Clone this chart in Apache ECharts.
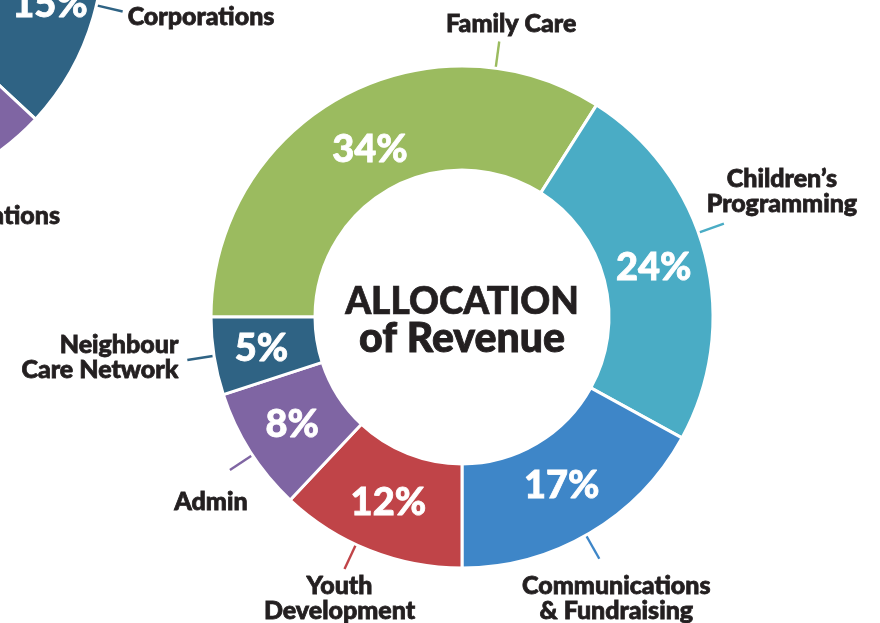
<!DOCTYPE html>
<html>
<head>
<meta charset="utf-8">
<title>Allocation of Revenue</title>
<script src="https://cdn.jsdelivr.net/npm/echarts@6/dist/echarts.min.js"></script>
<style>
  html, body { margin: 0; padding: 0; background: #ffffff; }
  #chart { width: 880px; height: 623px; }
</style>
</head>
<body>
<div id="chart"></div>
<script>
// Where revenue goes (percent of total)
const programs = ['Family Care', 'Children’s Programming', 'Communications & Fundraising', 'Youth Development', 'Admin', 'Neighbour Care Network'];
const programShares = [34, 24, 17, 12, 8, 5];
const programLabels = ['Family Care', 'Children’s\nProgramming', 'Communications\n& Fundraising', 'Youth\nDevelopment', 'Admin', 'Neighbour\nCare Network'];

// Where revenue comes from (only the first slices fall inside the page)
const revenueSources = ['Corporations', 'Foundations', 'Other Revenue'];
const revenueShares = [15, 20, 65];
const revenueLabels = ['Corporations', 'Foundations', ''];

// Styling
const programColors = ['#9bbb5f', '#4aacc5', '#3e86c8', '#c04448', '#7f65a3', '#2f6384'];
const revenueColors = ['#2f6384', '#7f65a3', '#b9c9d6'];
const TEXT = '#231f20';
const FONT = 'Lato';
const WEIGHT = 900;

const MAIN_CENTER = [462, 317];
const SIDE_CENTER = [-148, -52];
const RING = [147, 251];
const OUTER = 249;
const LEADER = 29;

// Distance of each percentage from the ring centre
const programPercentRadii = [191, 198, 196, 200, 201, 203];
const revenuePercentRadii = [206, 199, 199];

// Leader lines: angle clockwise from 12 o'clock, label offset from the line end
const programLeaders = [
  { angle: 7.7, dx: 12, dy: -18, align: 'center' },
  { angle: 70.4, dx: 58, dy: -32, align: 'center' },
  { angle: 150.4, dx: 17, dy: 40, align: 'center' },
  { angle: 205.0, dx: -5, dy: 29, align: 'center' },
  { angle: 236.6, dx: -19, dy: 32, align: 'center' },
  { angle: 261.1, dx: -9, dy: -3, align: 'right' }
];
const revenueLeaders = [
  { angle: 103.2, dx: 5, dy: 5, align: 'left' },
  { angle: 150.0, dx: 69, dy: 27, align: 'right' },
  null
];

function polar(center, r, deg) {
  const a = deg * Math.PI / 180;
  return [center[0] + r * Math.sin(a), center[1] - r * Math.cos(a)];
}

function leaderLayout(center, cfg) {
  if (!cfg) return {};
  const s = polar(center, OUTER, cfg.angle);
  const e = polar(center, OUTER + LEADER, cfg.angle);
  return {
    x: e[0] + cfg.dx,
    y: e[1] + cfg.dy,
    align: cfg.align,
    verticalAlign: 'middle',
    labelLinePoints: [s, e, e]
  };
}

// Mid-angle of each slice, clockwise from 12 o'clock, given the start angle
function midAngles(values, startFromNorth) {
  const total = values.reduce((a, b) => a + b, 0);
  let acc = 0;
  return values.map(v => {
    const mid = startFromNorth + (acc + v / 2) / total * 360;
    acc += v;
    return mid;
  });
}

function percentLayout(center, mids, radii) {
  return p => {
    const pt = polar(center, radii[p.dataIndex], mids[p.dataIndex]);
    return { x: pt[0], y: pt[1], align: 'center', verticalAlign: 'middle' };
  };
}

const percentLabel = {
  show: true,
  position: 'inside',
  color: '#ffffff',
  fontFamily: FONT,
  fontWeight: WEIGHT,
  fontSize: 38,
  textBorderColor: '#ffffff',
  textBorderWidth: 0.8,
  formatter: p => p.data.hidePercent ? '' : p.value + '%'
};

const nameLabel = {
  show: true,
  position: 'outside',
  color: TEXT,
  fontFamily: FONT,
  fontWeight: WEIGHT,
  fontSize: 25,
  lineHeight: 25,
  textBorderColor: TEXT,
  textBorderWidth: 0.8,
  formatter: p => p.data.label
};

function sliceData(names, values, colors, labels, extra) {
  return names.map((n, i) => Object.assign({
    name: n,
    value: values[i],
    label: labels ? labels[i] : undefined,
    itemStyle: { color: colors[i] },
    labelLine: { lineStyle: { color: colors[i], width: 2.4 } }
  }, extra ? extra(i) : {}));
}

function overlayData(names, values, colors, labels, extra) {
  return sliceData(names, values, colors, labels, extra).map(d => {
    d.itemStyle = { color: 'rgba(0,0,0,0)', borderWidth: 0 };
    return d;
  });
}

const baseRing = {
  type: 'pie',
  clockwise: true,
  avoidLabelOverlap: false,
  silent: true,
  animation: false,
  itemStyle: { borderColor: '#ffffff', borderWidth: 3 }
};

// ECharts startAngle is counter-clockwise from 3 o'clock
const SIDE_START = 11;
const MAIN_START = 180;
const sideMids = midAngles(revenueShares, 90 - SIDE_START);
const mainMids = midAngles(programShares, 90 - MAIN_START);

const chart = echarts.init(document.getElementById('chart'), null, { renderer: 'canvas' });
chart.setOption({
  backgroundColor: '#ffffff',
  title: {
    text: '{a|ALLOCATION}\n{b|of Revenue}',
    left: MAIN_CENTER[0],
    top: 285,
    padding: 0,
    textAlign: 'center',
    textStyle: {
      rich: {
        a: { fontFamily: FONT, fontWeight: WEIGHT, fontSize: 37, lineHeight: 35, color: TEXT, align: 'center', textBorderColor: TEXT, textBorderWidth: 0.7 },
        b: { fontFamily: FONT, fontWeight: WEIGHT, fontSize: 41, lineHeight: 37, color: TEXT, align: 'center', textBorderColor: TEXT, textBorderWidth: 0.9 }
      }
    }
  },
  series: [
    // Revenue sources ring, mostly beyond the top-left corner
    Object.assign({}, baseRing, {
      center: SIDE_CENTER,
      radius: RING,
      startAngle: SIDE_START,
      label: percentLabel,
      labelLine: { show: false },
      labelLayout: percentLayout(SIDE_CENTER, sideMids, revenuePercentRadii),
      data: sliceData(revenueSources, revenueShares, revenueColors, null,
        i => ({ hidePercent: i === 2 }))
    }),
    Object.assign({}, baseRing, {
      center: SIDE_CENTER,
      radius: RING,
      startAngle: SIDE_START,
      label: nameLabel,
      labelLine: { show: true, lineStyle: { width: 2.4 } },
      labelLayout: p => leaderLayout(SIDE_CENTER, revenueLeaders[p.dataIndex]),
      data: overlayData(revenueSources, revenueShares, revenueColors, revenueLabels,
        i => (i === 2 ? { label: '', labelLine: { show: false } } : {}))
    }),
    // Allocation ring
    Object.assign({}, baseRing, {
      center: MAIN_CENTER,
      radius: RING,
      startAngle: MAIN_START,
      label: percentLabel,
      labelLine: { show: false },
      labelLayout: percentLayout(MAIN_CENTER, mainMids, programPercentRadii),
      data: sliceData(programs, programShares, programColors, null)
    }),
    Object.assign({}, baseRing, {
      center: MAIN_CENTER,
      radius: RING,
      startAngle: MAIN_START,
      label: nameLabel,
      labelLine: { show: true, lineStyle: { width: 2.4 } },
      labelLayout: p => leaderLayout(MAIN_CENTER, programLeaders[p.dataIndex]),
      data: overlayData(programs, programShares, programColors, programLabels)
    })
  ]
});
</script>
</body>
</html>
